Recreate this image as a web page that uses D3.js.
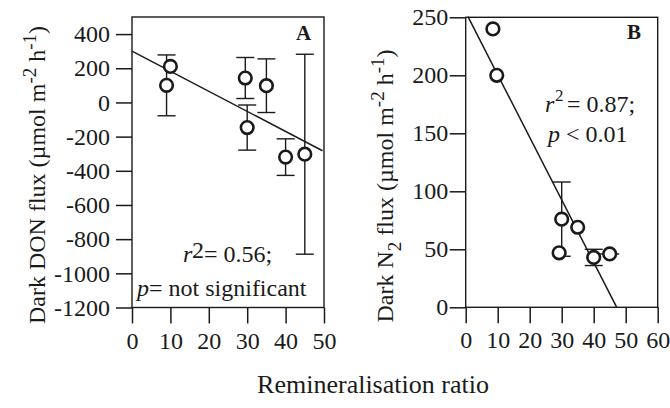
<!DOCTYPE html>
<html><head><meta charset="utf-8">
<script src="https://cdn.jsdelivr.net/npm/d3@7"></script>
<style>
body{margin:0;background:#fff;}
svg text{font-family:"Liberation Serif","Times New Roman",Times,serif;fill:#1a1a1a;}
</style></head>
<body><svg id="c" width="670" height="408"></svg>
<script>
// ---- Data ----
const ratioA = [9, 10, 29.5, 30, 35, 40, 45];
const donFlux = [100, 211, 143, -147, 98, -320, -303];
const donErr = [178, 0, 120, 132, 157, 107, 585];
const regA = {intercept: 300, slope: -11.75, x0: 0, x1: 49.6};
const xTicksA = [0, 10, 20, 30, 40, 50];
const yTicksA = [400, 200, 0, -200, -400, -600, -800, -1000, -1200];

const ratioB = [8.5, 9.7, 29.2, 30, 35, 40, 45];
const n2Flux = [240, 200, 47, 76, 69, 43, 46];
const n2Err = [0, 0, 0, 32, 0, 7, 0];
const n2XErr = [1.5, 0, 0, 0, 0, 0, 3];
const regB = {intercept: 254.3, slope: -5.39, x0: 0.7, x1: 47.2};
const xTicksB = [0, 10, 20, 30, 40, 50, 60];
const yTicksB = [0, 50, 100, 150, 200, 250];

const FONT = '"Liberation Serif","Times New Roman",Times,serif';
const svg = d3.select("#c");
const ink = "#1a1a1a";

function panel(o){
  const g = svg.append("g");
  const x = d3.scaleLinear().domain(o.xd).range([o.L, o.R]);
  const y = d3.scaleLinear().domain(o.yd).range([o.B, o.T]);
  const fmt = d => String(d);
  const ax = g.append("g").attr("transform",`translate(0,${o.B})`)
    .call(d3.axisBottom(x).tickValues(o.xt).tickFormat(fmt).tickSize(16).tickSizeOuter(0).tickPadding(8));
  const ay = g.append("g").attr("transform",`translate(${o.L},0)`)
    .call(d3.axisLeft(y).tickValues(o.yt).tickFormat(fmt).tickSize(16).tickSizeOuter(0).tickPadding(o.ypad));
  [ax, ay].forEach(a=>{
    a.attr("font-family",FONT).attr("font-size",24);
    a.select(".domain").remove();
    a.selectAll("line").attr("stroke",ink).attr("stroke-width",1.5);
    a.selectAll("text").attr("fill",ink).attr("font-family",FONT).attr("font-size",24);
  });
  g.append("rect").attr("x",o.L).attr("y",o.T).attr("width",o.R-o.L).attr("height",o.B-o.T)
    .attr("fill","none").attr("stroke",ink).attr("stroke-width",1.4);
  const cw = 9;
  o.xs.forEach((xv,i)=>{
    const e = o.err[i];
    if(e>0){
      const cx = x(xv), y1 = y(o.ys[i]+e), y2 = y(o.ys[i]-e);
      g.append("line").attr("x1",cx).attr("x2",cx).attr("y1",y1).attr("y2",y2).attr("stroke",ink).attr("stroke-width",1.4);
      [y1,y2].forEach(yy=>g.append("line").attr("x1",cx-cw).attr("x2",cx+cw).attr("y1",yy).attr("y2",yy).attr("stroke",ink).attr("stroke-width",1.4));
    }
    const xe = o.xerr ? o.xerr[i] : 0;
    if(xe>0){
      g.append("line").attr("x1",x(xv-xe)).attr("x2",x(xv+xe)).attr("y1",y(o.ys[i])).attr("y2",y(o.ys[i])).attr("stroke",ink).attr("stroke-width",1.4);
    }
  });
  g.append("line").attr("x1",x(o.reg.x0)).attr("y1",y(o.reg.intercept+o.reg.slope*o.reg.x0))
    .attr("x2",x(o.reg.x1)).attr("y2",y(o.reg.intercept+o.reg.slope*o.reg.x1))
    .attr("stroke",ink).attr("stroke-width",1.5);
  g.selectAll("circle.p").data(o.xs).enter().append("circle")
    .attr("cx",(d)=>x(d)).attr("cy",(d,i)=>y(o.ys[i])).attr("r",6.3)
    .attr("fill","#fff").attr("stroke",ink).attr("stroke-width",2.6);
  return {x,y,g};
}

panel({L:132,R:324,T:17,B:307.5,xd:[0,50],yd:[-1200,500],xt:xTicksA,yt:yTicksA,ypad:6,
  xs:ratioA,ys:donFlux,err:donErr,reg:regA});
panel({L:465.7,R:657.7,T:17.3,B:307.3,xd:[0,60],yd:[0,250],xt:xTicksB,yt:yTicksB,ypad:1.5,
  xs:ratioB,ys:n2Flux,err:n2Err,xerr:n2XErr,reg:regB});

function txt(x,y,size,s,extra){
  const t = svg.append("text").attr("x",x).attr("y",y).attr("font-size",size).attr("font-family",FONT).text(s);
  if(extra) extra(t);
  return t;
}
txt(296,40,21,"A",t=>t.attr("font-weight","bold"));
txt(627,39,21,"B",t=>t.attr("font-weight","bold"));

txt(183,262,24,"r",t=>t.attr("font-style","italic"));
txt(192,258,24,"2");
txt(204,262,24,"= 0.56;");
txt(137,296,24,"",t=>{t.append("tspan").attr("font-style","italic").text("p");t.append("tspan").text("= not significant");});
txt(545,112,24,"r",t=>t.attr("font-style","italic"));
txt(555,101,17,"2");
txt(567,112,24,"= 0.87;");
txt(548,142,24,"",t=>{t.append("tspan").attr("font-style","italic").text("p");t.append("tspan").text(" < 0.01");});

txt(373,393,26,"Remineralisation ratio",t=>t.attr("text-anchor","middle"));
function ytitle(xb, yc, parts){
  const t = svg.append("text").attr("transform",`translate(${xb},${yc}) rotate(-90)`)
    .attr("font-size",24).attr("font-family",FONT).attr("text-anchor","middle");
  parts.forEach(p=>t.append("tspan").attr("dy",p[1]).attr("font-size",p[2]||24).text(p[0]));
}
ytitle(45,175,[["Dark DON flux (µmol m",0],["-2",-9,19],[" h",9],["-1",-9,19],[")",9]]);
ytitle(393,186,[["Dark N",0],["2",8,19],[" flux (µmol m",-8],["-2",-9,19],[" h",9],["-1",-9,19],[")",9]]);
</script></body></html>
